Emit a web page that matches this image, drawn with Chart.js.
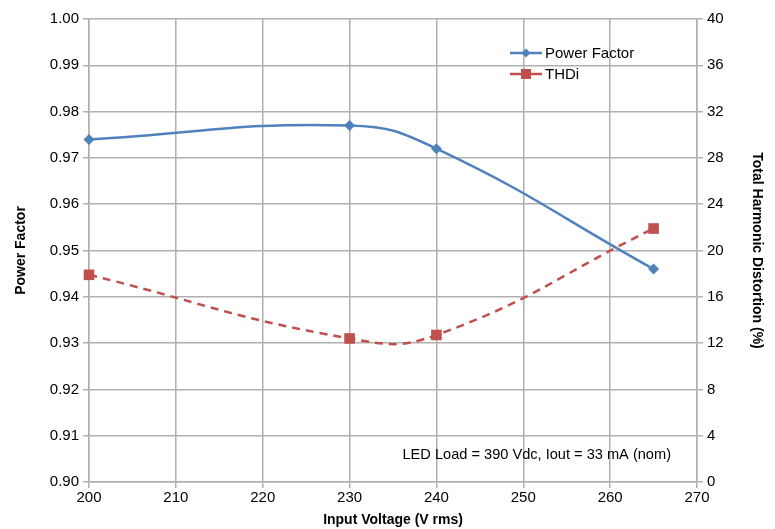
<!DOCTYPE html>
<html>
<head>
<meta charset="utf-8">
<script src="https://cdn.jsdelivr.net/npm/chart.js@4"></script>
<style>
  body { margin: 0; background: #fff; }
  #wrap { width: 775px; height: 529px; }
</style>
</head>
<body>
<div id="wrap"><canvas id="myChart" width="775" height="529"></canvas></div>
<script>
// valeurs
const inputVoltage = [200, 230, 240, 265];
const powerFactor = [0.974, 0.977, 0.972, 0.946];
const thdi = [17.9, 12.4, 12.7, 21.9];
const xTicks = [200, 210, 220, 230, 240, 250, 260, 270];
const pfTicks = [0.90, 0.91, 0.92, 0.93, 0.94, 0.95, 0.96, 0.97, 0.98, 0.99, 1.00];
const thdTicks = [0, 4, 8, 12, 16, 20, 24, 28, 32, 36, 40];
const noteText = "LED Load = 390 Vdc, Iout = 33 mA (nom)";

const FONT = "'Liberation Sans', Arial, sans-serif";
const gridColor = "#b0b0b0";

function toPoints(xs, ys) {
    return xs.map((x, i) => ({ x: x, y: ys[i] }));
}

// légende et note dessinées dans la zone du graphique
const overlayPlugin = {
    id: "overlay",
    afterDraw(chart) {
        const ctx = chart.ctx;
        const area = chart.chartArea;
        ctx.save();
        ctx.font = "15px " + FONT;
        ctx.textBaseline = "middle";
        ctx.textAlign = "left";
        const items = chart.data.datasets;
        items.forEach((ds, i) => {
            const y = 53 + i * 21;
            const x0 = 510;
            ctx.strokeStyle = ds.borderColor;
            ctx.lineWidth = 2.5;
            ctx.setLineDash([]);
            ctx.beginPath();
            ctx.moveTo(x0, y);
            ctx.lineTo(x0 + 32, y);
            ctx.stroke();
            ctx.fillStyle = ds.backgroundColor;
            if (ds.pointStyle === "rectRot") {
                ctx.beginPath();
                ctx.moveTo(x0 + 16, y - 4.5);
                ctx.lineTo(x0 + 20.5, y);
                ctx.lineTo(x0 + 16, y + 4.5);
                ctx.lineTo(x0 + 11.5, y);
                ctx.closePath();
                ctx.fill();
            } else {
                ctx.fillRect(x0 + 11, y - 5, 10, 10);
            }
            ctx.fillStyle = "#000";
            ctx.fillText(ds.label, x0 + 35, y + 1);
        });
        ctx.font = "14.6px " + FONT;
        ctx.textAlign = "right";
        ctx.fillText(noteText, area.right - 26, 455);
        ctx.restore();
    }
};

const ctx = document.getElementById("myChart").getContext("2d");
const myChart = new Chart(ctx, {
    type: "line",
    data: {
        datasets: [{
            label: "Power Factor",
            data: toPoints(inputVoltage, powerFactor),
            yAxisID: "yPF",
            borderColor: "#4f81bd",
            backgroundColor: "#4f81bd",
            borderWidth: 2.5,
            pointStyle: "rectRot",
            pointRadius: 5.5,
            pointBorderWidth: 0,
            tension: 0.45,
            clip: false,
        }, {
            label: "THDi",
            data: toPoints(inputVoltage, thdi),
            yAxisID: "yTHD",
            borderColor: "#c0504d",
            backgroundColor: "#c0504d",
            borderWidth: 2.5,
            borderDash: [8, 6],
            pointStyle: "rect",
            pointRadius: 7.5,
            pointBorderWidth: 0,
            tension: 0.45,
            clip: false,
        }],
    },
    options: {
        responsive: false,
        animation: false,
        layout: { padding: { top: 19, right: 0, left: 0, bottom: 0 } },
        plugins: {
            legend: { display: false },
            tooltip: { enabled: false },
        },
        scales: {
            x: {
                type: "linear",
                min: 200,
                max: 270,
                afterBuildTicks: (scale) => { scale.ticks = xTicks.map(v => ({ value: v })); },
                afterFit: (scale) => { scale.height = 47; },
                ticks: { color: "#000", font: { family: FONT, size: 15 }, padding: 1 },
                grid: { color: gridColor, lineWidth: 1.5, tickLength: 6 },
                border: { color: gridColor, width: 1.5 },
                title: {
                    display: true,
                    text: "Input Voltage (V rms)",
                    color: "#000",
                    font: { family: FONT, size: 14, weight: "bold" },
                    padding: { top: 0, bottom: 0 },
                },
            },
            yPF: {
                type: "linear",
                position: "left",
                min: 0.90,
                max: 1.00,
                afterBuildTicks: (scale) => { scale.ticks = pfTicks.map(v => ({ value: v })); },
                afterFit: (scale) => { scale.width = 89; },
                ticks: {
                    color: "#000",
                    font: { family: FONT, size: 15 },
                    padding: 4,
                    callback: (v) => v.toFixed(2),
                },
                grid: { color: gridColor, lineWidth: 1.5, tickLength: 6 },
                border: { color: gridColor, width: 1.5 },
                title: {
                    display: true,
                    text: "Power Factor",
                    color: "#000",
                    font: { family: FONT, size: 14, weight: "bold" },
                    padding: { top: 13, bottom: 4 },
                },
            },
            yTHD: {
                type: "linear",
                position: "right",
                min: 0,
                max: 40,
                afterBuildTicks: (scale) => { scale.ticks = thdTicks.map(v => ({ value: v })); },
                afterFit: (scale) => { scale.width = 78; },
                ticks: { color: "#000", font: { family: FONT, size: 15 }, padding: 4 },
                grid: { drawOnChartArea: false, color: gridColor, lineWidth: 1.5, tickLength: 6 },
                border: { color: gridColor, width: 1.5 },
                title: {
                    display: true,
                    text: "Total Harmonic Distortion (%)",
                    color: "#000",
                    font: { family: FONT, size: 14, weight: "bold" },
                    padding: { top: 10, bottom: 0 },
                },
            },
        },
    },
    plugins: [overlayPlugin],
});
</script>
</body>
</html>
